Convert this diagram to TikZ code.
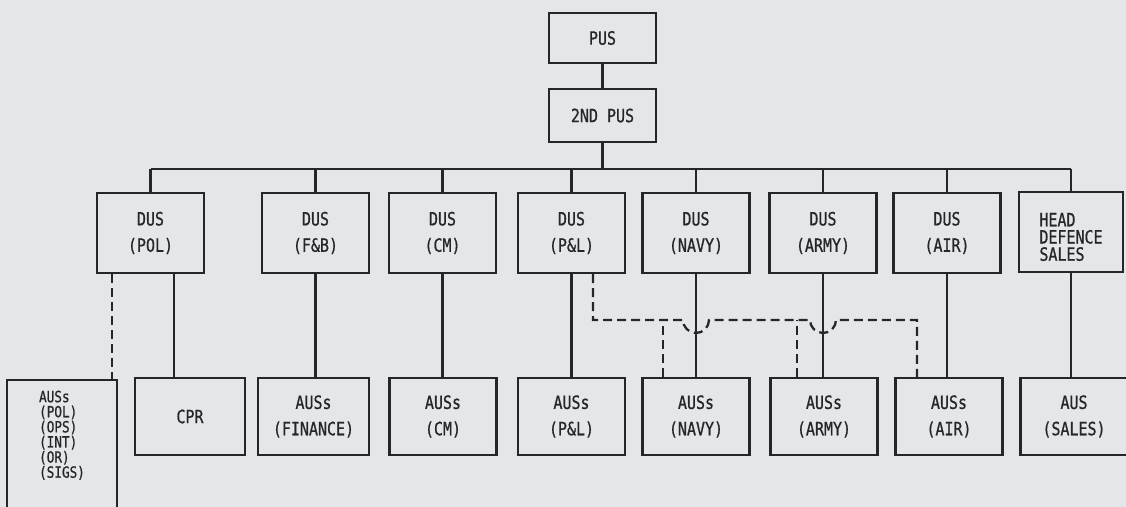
\documentclass[tikz,border=0pt]{standalone}
\usepackage{fontspec}
\usepackage{xcolor}
\usepackage{tikz}
\usetikzlibrary{positioning}
\newfontfamily\orgfont[FakeStretch=0.82, FakeBold=0.8]{DejaVu Sans Mono}
\definecolor{inkLine}{HTML}{262626}
\definecolor{paperBg}{HTML}{E4E7EA}

\begin{document}
\begin{tikzpicture}[x=0.02cm, y=0.02cm,
  unit/.style={draw=inkLine, line width=1.3pt, minimum width=2.14cm, align=center,
               text=inkLine, inner sep=2pt, font=\orgfont\fontsize{10.4}{15}\selectfont},
  duty/.style={unit, minimum height=1.6cm},
  branch/.style={unit, minimum height=1.54cm},
  link/.style={draw=inkLine, line width=1.3pt},
  dashlink/.style={link, dash pattern=on 0.18cm off 0.1cm}]
  \fill[paperBg] (0,0) rectangle (1126,-507);
  \useasboundingbox (0,0) rectangle (1126,-507);
  \clip (0,0) rectangle (1126,-507);

  % top of the tree
  \node[unit, minimum height=1cm] (pus) at (602.5,-38) {PUS};
  \node[unit, minimum height=1.06cm] (pus2) at (602.5,-115.5) {2ND PUS};
  \coordinate (bus) at (0,-169);
  \coordinate (tap) at (0,-320);

  % deputy under-secretaries
  \node[duty] (dpol) at (150.5,-233) {DUS\\(POL)};
  \node[duty] (dfb) at (315.5,-233) {DUS\\(F\&B)};
  \node[duty] (dcm) at (442.5,-233) {DUS\\(CM)};
  \node[duty] (dpl) at (571.5,-233) {DUS\\(P\&L)};
  \node[duty] (dnavy) at (696,-233) {DUS\\(NAVY)};
  \node[duty] (darmy) at (823,-233) {DUS\\(ARMY)};
  \node[duty] (dair) at (947,-233) {DUS\\(AIR)};
  \node[duty, minimum width=2.08cm, align=left, text height=1.2cm, text depth=0.05cm,
        font=\orgfont\fontsize{10.4}{9.8}\selectfont] (dhead) at (1071,-232) {HEAD\\DEFENCE\\SALES};

  % assistant under-secretaries
  \node[unit, anchor=north, minimum width=2.2cm, align=left, inner sep=6pt, text depth=1.6cm,
        font=\orgfont\fontsize{8.8}{8.6}\selectfont] (apol) at (62,-379)
        {AUSs\\(POL)\\(OPS)\\(INT)\\(OR)\\(SIGS)};
  \node[branch, minimum width=2.2cm] (cpr) at (190,-416.5) {CPR};
  \node[branch, minimum width=2.22cm] (afin) at (313.5,-416.5) {AUSs\\(FINANCE)};
  \node[branch] (acm) at (443,-416.5) {AUSs\\(CM)};
  \node[branch] (apl) at (571.5,-416.5) {AUSs\\(P\&L)};
  \node[branch] (anavy) at (696,-416.5) {AUSs\\(NAVY)};
  \node[branch] (aarmy) at (824,-416.5) {AUSs\\(ARMY)};
  \node[branch] (aair) at (949,-416.5) {AUSs\\(AIR)};
  \node[branch] (asales) at (1074,-416.5) {AUS\\(SALES)};

  % solid lines
  \draw[link] (pus) -- (pus2);
  \draw[link] (pus2.south) -- (pus2.south |- bus);
  \draw[link] (dpol.north |- bus) -- (dhead.north |- bus);
  \foreach \d in {dpol,dfb,dcm,dpl,dnavy,darmy,dair,dhead}
    \draw[link] (\d.north |- bus) -- (\d.north);
  \foreach \d/\a in {dfb/afin,dcm/acm,dpl/apl,dnavy/anavy,darmy/aarmy,dair/aair,dhead/asales}
    \draw[link] (\d.south) -- (\d.south |- \a.north);
  \draw[link] ([xshift=0.47cm]dpol.south) -- ([xshift=0.47cm]dpol.south |- cpr.north);

  % dashed lines
  \draw[dashlink] ([xshift=-0.77cm]dpol.south) -- ([xshift=-0.77cm]dpol.south |- apol.north);
  \draw[dashlink] ([xshift=0.43cm]dpl.south) -- ([xshift=0.43cm]dpl.south |- tap)
    -- ([xshift=-0.26cm]dnavy.south |- tap) arc[start angle=180, end angle=360, radius=0.26cm]
    -- ([xshift=-0.26cm]darmy.south |- tap) arc[start angle=180, end angle=360, radius=0.26cm]
    -- ([xshift=-0.64cm]aair.north |- tap) -- ([xshift=-0.64cm]aair.north);
  \draw[dashlink] ([xshift=-0.66cm]anavy.north) -- ([xshift=-0.66cm]anavy.north |- tap);
  \draw[dashlink] ([xshift=-0.54cm]aarmy.north) -- ([xshift=-0.54cm]aarmy.north |- tap);
\end{tikzpicture}
\end{document}
